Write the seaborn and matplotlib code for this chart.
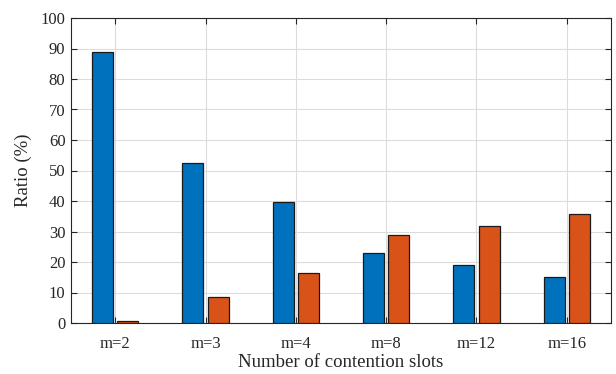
import matplotlib
matplotlib.use("Agg")
import matplotlib.pyplot as plt
import seaborn as sns
import pandas as pd

categories = ["m=2", "m=3", "m=4", "m=8", "m=12", "m=16"]
series_a = [88.7, 52.3, 39.6, 22.8, 19.0, 15.0]
series_b = [0.5, 8.6, 16.3, 28.9, 31.8, 35.7]
yticks = [0, 10, 20, 30, 40, 50, 60, 70, 80, 90, 100]

df = pd.DataFrame({
    "cat": categories * 2,
    "val": series_a + series_b,
    "series": ["A"] * len(categories) + ["B"] * len(categories),
})

sns.set_theme(style="white")
plt.rcParams["font.family"] = ["Liberation Serif", "DejaVu Serif"]

fig = plt.figure(figsize=(6.16, 3.74), dpi=100)
ax = fig.add_axes([71 / 616, 1 - 323 / 374, 540 / 616, 305 / 374])

sns.barplot(data=df, x="cat", y="val", hue="series", order=categories,
            palette=["#0072BD", "#D95319"], saturation=1, width=0.56, gap=0.17,
            edgecolor="#1a1a1a", linewidth=0.9, legend=False, ax=ax, zorder=3)

ax.set_xlim(-0.49, 5.49)
ax.set_ylim(0, 100)
ax.set_yticks(yticks)
ax.set_yticklabels([str(t) for t in yticks])
ax.grid(True, color="#dcdcdc", linewidth=0.8, zorder=0)
ax.set_axisbelow(True)
for s in ax.spines.values():
    s.set_color("#262626")
    s.set_linewidth(0.8)
    s.set_visible(True)
ax.tick_params(axis="both", direction="in", length=4, width=0.8, color="#262626",
               labelsize=12, labelcolor="#262626", top=True, right=True,
               left=True, bottom=True)
ax.tick_params(axis="x", pad=9)
ax.tick_params(axis="y", pad=4)
ax.set_xlabel("Number of contention slots", fontsize=13.5, color="#262626", labelpad=2)
ax.set_ylabel("Ratio (%)", fontsize=13.5, color="#262626", labelpad=6)

fig.savefig("out.png", dpi=100)
